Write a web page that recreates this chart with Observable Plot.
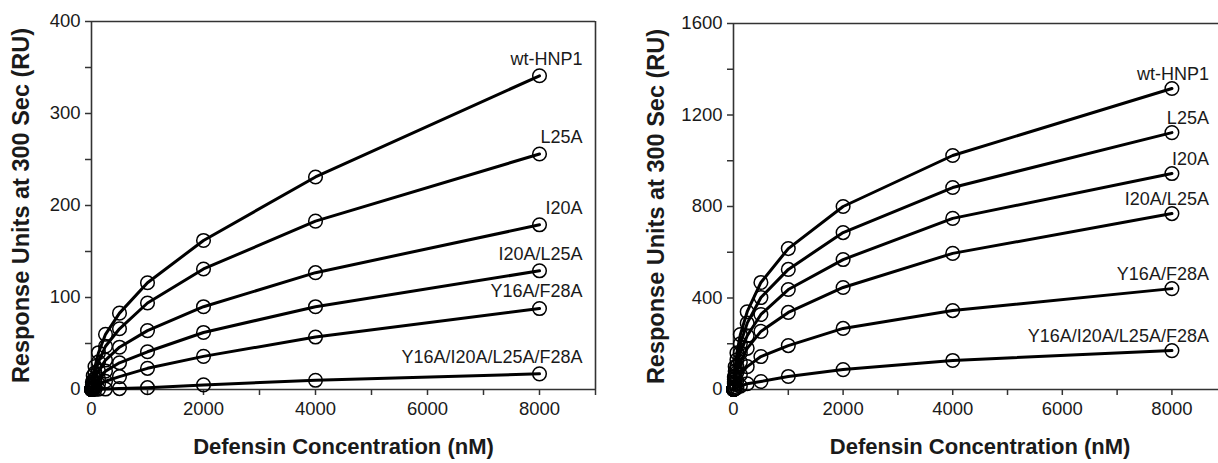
<!DOCTYPE html>
<html>
<head>
<meta charset="utf-8">
<script src="https://cdn.jsdelivr.net/npm/d3@7"></script>
<script src="https://cdn.jsdelivr.net/npm/@observablehq/plot@0.6"></script>
<style>
  html, body { margin: 0; padding: 0; background: #fff; }
  body { width: 1218px; height: 463px; overflow: hidden; }
  #wrap { display: flex; flex-direction: row; width: 1218px; height: 463px; }
  svg { display: block; }
</style>
</head>
<body>
<div id="wrap"></div>
<script>
// Defensin concentrations (nM)
const concentrations = [0, 15.625, 31.25, 62.5, 125, 250, 500, 1000, 2000, 4000, 8000];
const seriesNames = ["wt-HNP1", "L25A", "I20A", "I20A/L25A", "Y16A/F28A", "Y16A/I20A/L25A/F28A"];

// Left panel responses (RU)
const leftWt     = [0, 8, 15, 25, 40, 60, 83, 116, 162, 231, 341];
const leftL25A   = [0, 5, 10, 18, 30, 47, 66, 94, 131, 183, 256];
const leftI20A   = [0, 3.5, 7, 12, 20, 32, 46, 64, 90, 127, 179];
const leftI20AL25A = [0, 2, 4, 7, 12, 20, 29, 41, 62, 90, 129];
const leftY16AF28A = [0, 1, 2, 3, 6, 9, 14, 23, 36, 57, 88];
const leftQuad   = [0, 0, 0.1, 0.2, 0.3, 0.5, 1, 2, 5, 10, 17];

// Right panel responses (RU)
const rightWt     = [0, 55, 100, 160, 240, 340, 468, 616, 800, 1023, 1316];
const rightL25A   = [0, 45, 80, 130, 200, 290, 402, 525, 686, 883, 1123];
const rightI20A   = [0, 33, 60, 100, 160, 235, 328, 437, 568, 748, 944];
const rightI20AL25A = [0, 25, 45, 75, 120, 180, 254, 337, 446, 595, 769];
const rightY16AF28A = [0, 12, 22, 40, 65, 100, 144, 192, 267, 345, 441];
const rightQuad   = [0, 2, 4, 8, 15, 25, 35, 57, 87, 127, 170];

const leftYTicks = [0, 50, 100, 150, 200, 250, 300, 350, 400];
const rightYTicks = [0, 200, 400, 600, 800, 1000, 1200, 1400, 1600];
const leftXTicks = [0, 1000, 2000, 3000, 4000, 5000, 6000, 7000, 8000, 9000];
const rightXTicks = [0, 1000, 2000, 3000, 4000, 5000, 6000, 7000, 8000];

const yTitle = "Response Units at 300 Sec (RU)";
const xTitle = "Defensin Concentration (nM)";

function tidy(seriesArrays) {
  const rows = [];
  seriesArrays.forEach((vals, i) => {
    vals.forEach((v, j) => rows.push({series: seriesNames[i], conc: concentrations[j], resp: v}));
  });
  return rows;
}

const FONT = "'Liberation Sans', Arial, sans-serif";
const INK = "#1a1a1a";
const AX = "#333";

function panel({data, width, marginLeft, marginRight, marginTop, xDomain, yDomain, yTicks, yLabelEvery, xTicks, labelDx, labelDy, fullFrame, titleX, yTitleX}) {
  const last = data.filter(d => d.conc === 8000);
  const marks = [
    Plot.axisY(yTicks, {tickSize: 6, tickPadding: 5, fontSize: 18.5, fill: INK, stroke: AX, strokeWidth: 1.5,
      tickFormat: d => (d % yLabelEvery === 0 ? String(d) : ""), label: null}),
    Plot.axisX(xTicks, {tickSize: 6, tickPadding: 6, fontSize: 18.5, fill: INK, stroke: AX, strokeWidth: 1.5,
      tickFormat: d => (d % 2000 === 0 ? String(d) : ""), label: null}),
    Plot.ruleX([xDomain[0]], {stroke: AX, strokeWidth: 1.6}),
    Plot.ruleY([yDomain[0]], {stroke: AX, strokeWidth: 1.6}),
    Plot.ruleY([yDomain[1]], {stroke: AX, strokeWidth: 1.6}),
  ];
  if (fullFrame) marks.push(Plot.ruleX([xDomain[1]], {stroke: AX, strokeWidth: 1.6}));
  marks.push(
    Plot.line(data, {x: "conc", y: "resp", z: "series", stroke: "#000", strokeWidth: 3}),
    Plot.dot(data, {x: "conc", y: "resp", r: 6.8, stroke: "#000", strokeWidth: 1.5, fill: "none"}),
    Plot.text(last, {x: "conc", y: "resp", text: "series", textAnchor: "end", dx: labelDx, dy: labelDy,
      fontSize: 18, fill: INK, fontFamily: FONT}),
    Plot.text([yTitle], {frameAnchor: "left", textAnchor: "middle", rotate: -90, dx: -(marginLeft - yTitleX),
      fontSize: 23.5, fontWeight: "bold", fill: INK, fontFamily: FONT}),
    Plot.text([xTitle], {x: [titleX], y: [yDomain[0]], dy: 57, textAnchor: "middle",
      fontSize: 22, fontWeight: "bold", fill: INK, fontFamily: FONT})
  );
  return Plot.plot({
    width, height: 463,
    marginLeft, marginRight, marginTop, marginBottom: 463 - 389,
    style: {fontFamily: FONT, background: "#fff", overflow: "visible"},
    x: {domain: xDomain, axis: null},
    y: {domain: yDomain, axis: null},
    marks
  });
}

const left = panel({
  data: tidy([leftWt, leftL25A, leftI20A, leftI20AL25A, leftY16AF28A, leftQuad]),
  width: 612, marginLeft: 91, marginRight: 17, marginTop: 21,
  xDomain: [0, 9000], yDomain: [0, 400], yTicks: leftYTicks, yLabelEvery: 100,
  xTicks: leftXTicks, labelDx: 43, labelDy: -17, fullFrame: true, titleX: 4500, yTitleX: 21
});
const right = panel({
  data: tidy([rightWt, rightL25A, rightI20A, rightI20AL25A, rightY16AF28A, rightQuad]),
  width: 606, marginLeft: 121, marginRight: 0, marginTop: 23,
  xDomain: [0, 8850], yDomain: [0, 1600], yTicks: rightYTicks, yLabelEvery: 400,
  xTicks: rightXTicks, labelDx: 37, labelDy: -14, fullFrame: false, titleX: 4500, yTitleX: 44
});
document.getElementById("wrap").append(left, right);
</script>
</body>
</html>
